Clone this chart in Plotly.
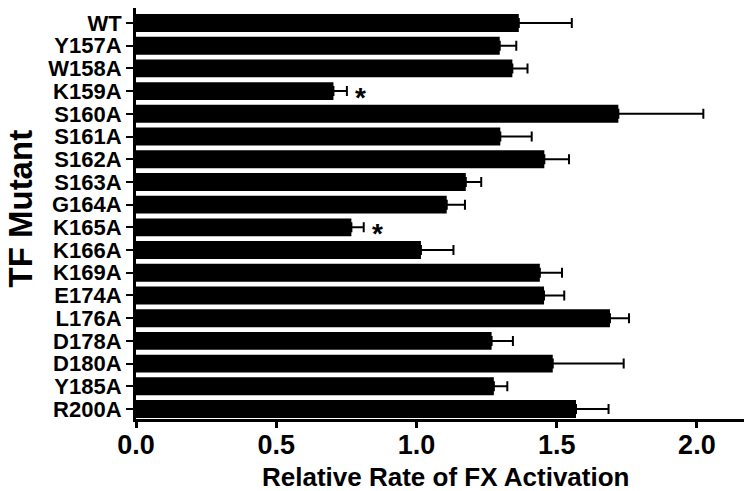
import plotly.graph_objects as go

mutants = ["WT", "Y157A", "W158A", "K159A", "S160A", "S161A", "S162A", "S163A", "G164A",
           "K165A", "K166A", "K169A", "E174A", "L176A", "D178A", "D180A", "Y185A", "R200A"]
rates = [1.365, 1.297, 1.342, 0.704, 1.720, 1.299, 1.456, 1.176, 1.108,
         0.768, 1.016, 1.440, 1.455, 1.690, 1.268, 1.486, 1.276, 1.569]
errors = [0.189, 0.059, 0.054, 0.048, 0.303, 0.112, 0.088, 0.055, 0.065,
          0.044, 0.116, 0.079, 0.072, 0.068, 0.076, 0.253, 0.048, 0.116]
significant = ["K159A", "K165A"]
x_ticks = [0.0, 0.5, 1.0, 1.5, 2.0]

FONT = "Liberation Sans, Arial, sans-serif"

fig = go.Figure()
fig.add_trace(go.Bar(
    y=mutants, x=rates, orientation="h",
    marker=dict(color="black", line=dict(width=0)),
    error_x=dict(type="data", array=errors, symmetric=False,
                 arrayminus=[0] * len(errors), color="black", thickness=2, width=5),
    hoverinfo="skip",
))

for m in significant:
    i = mutants.index(m)
    fig.add_annotation(x=rates[i] + errors[i], y=m, text="*", showarrow=False,
                       xanchor="left", yanchor="middle", xshift=6, yshift=-6,
                       font=dict(family=FONT, size=28, color="black", weight="bold"))

# axis titles as annotations for precise placement
fig.add_annotation(text="Relative Rate of FX Activation", xref="paper", yref="paper",
                   x=0.5, y=0, xanchor="center", yanchor="middle",
                   xshift=5, yshift=-58, showarrow=False,
                   font=dict(family=FONT, size=26, color="black", weight="bold"))
fig.add_annotation(text="TF Mutant", xref="paper", yref="paper", textangle=-90,
                   x=0, y=0.5, xanchor="center", yanchor="middle",
                   xshift=-116, yshift=5, showarrow=False,
                   font=dict(family=FONT, size=33, color="black", weight="bold"))

fig.update_layout(
    width=744, height=491,
    margin=dict(l=136, r=0, t=8, b=72),
    paper_bgcolor="white", plot_bgcolor="white",
    bargap=0.21, showlegend=False,
    font=dict(family=FONT, color="black"),
)
fig.update_xaxes(
    range=[0, 2.168], tickvals=x_ticks, tickformat=".1f",
    showgrid=False, zeroline=False,
    showline=True, linecolor="black", linewidth=3,
    ticks="outside", ticklen=6, tickwidth=3, tickcolor="black",
    ticklabelstandoff=-6,
    tickfont=dict(family=FONT, size=27, weight="bold"),
)
fig.update_yaxes(
    categoryorder="array", categoryarray=mutants,
    tickmode="array", tickvals=mutants,
    range=[17.44, -0.66],
    showgrid=False, zeroline=False,
    showline=True, linecolor="black", linewidth=3,
    ticks="outside", ticklen=7, tickwidth=2, tickcolor="black",
    tickfont=dict(family=FONT, size=22, weight="bold"),
)

fig.write_html("out.html", config={"displayModeBar": False},
               post_script="document.body.style.margin='0';")
